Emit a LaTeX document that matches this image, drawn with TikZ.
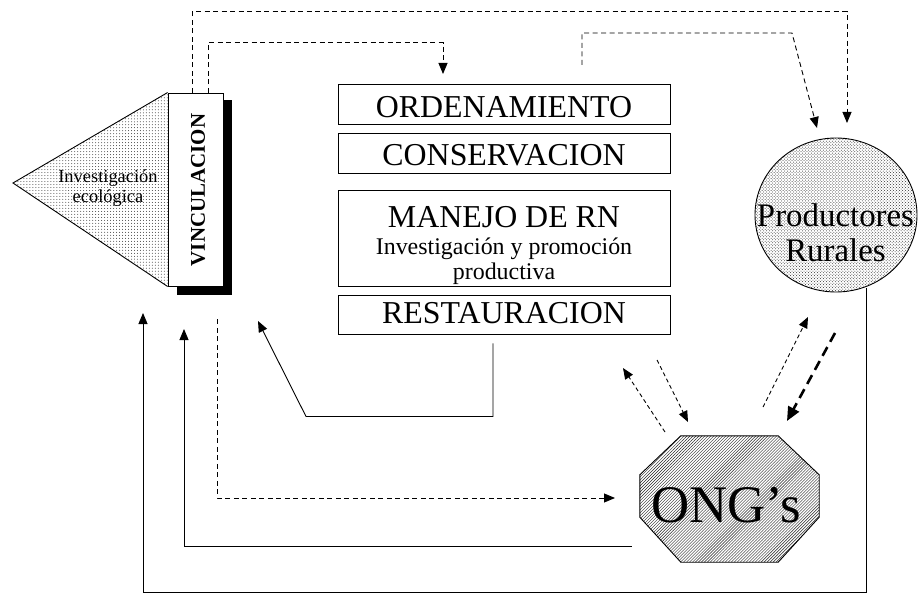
\documentclass[tikz,border=0pt]{standalone}
\usepackage{fontspec}
\setmainfont{Liberation Serif}
\usetikzlibrary{arrows.meta,patterns,shapes.geometric,calc}
\begin{document}
\begin{tikzpicture}[x=1bp,y=-1bp,
  ln/.style={line width=0.9bp},
  dsh/.style={line width=0.9bp, dash pattern=on 5bp off 3.5bp},
  arr/.style={-{Triangle[length=11bp,width=9bp]}},
  boxst/.style={draw, line width=0.9bp, fill=white, inner sep=0, minimum width=332bp},
  big/.style={font=\fontsize{32}{32}\selectfont},
  mid/.style={font=\fontsize{24}{24}\selectfont},
]
\useasboundingbox[fill=white] (0,0) rectangle (922,594);

% VINCULACION box with shadow and triangle
\fill[black] (177,100) rectangle (232,295);
\node[draw, line width=0.9bp, fill=white, minimum width=55bp, minimum height=193bp, inner sep=0] (vinc) at (195.5,189.5) {};
\node[rotate=90, font=\fontsize{21}{21}\selectfont\bfseries] (tvinc) at (198,190) {VINCULACION};
\coordinate (apex) at (13,183);
\path[pattern=dots, pattern color=black!75] (apex) -- (vinc.north west) -- (vinc.south west) -- cycle;
\draw[ln] (vinc.north west) -- (apex) -- (vinc.south west);
\node[anchor=base, font=\fontsize{18.5}{18.5}\selectfont] (tinv) at (108,183) {Investigación};
\node[anchor=base, font=\fontsize{18.5}{18.5}\selectfont] (teco) at (108,203) {ecológica};

% central boxes
\node[boxst, minimum height=40bp] (ord) at (504,104) {};
\node[anchor=base, big] (tord) at (504,118) {ORDENAMIENTO};
\node[boxst, minimum height=40bp] (cons) at (504,153) {};
\node[anchor=base, big] (tcons) at (504,166) {CONSERVACION};
\node[boxst, minimum height=96bp] (man) at (504,238) {};
\node[anchor=base, big] (tman) at (504,228) {MANEJO DE RN};
\node[anchor=base, mid] (tman2) at (504,255) {Investigación y promoción};
\node[anchor=base, mid] (tman3) at (504,279) {productiva};
\node[boxst, minimum height=39bp] (rest) at (504,314.5) {};
\node[anchor=base, big] (trest) at (504,323) {RESTAURACION};

% Productores Rurales
\node[ellipse, draw, line width=0.9bp, pattern=crosshatch dots, pattern color=black!80, minimum width=162bp, minimum height=154bp, inner sep=0] (prod) at (836,215) {};
\node[anchor=base, font=\fontsize{33}{33}\selectfont] (tprod) at (835.5,227) {Productores};
\node[anchor=base, font=\fontsize{33}{33}\selectfont] (trur) at (835.5,262) {Rurales};

% ONG's octagon
\node[minimum width=179bp, minimum height=126bp, inner sep=0] (ong) at (729.5,499) {};
\draw[ln, pattern=north east lines, pattern color=black!85]
  ($(ong.north west)+(41,0)$) -- ($(ong.north east)+(-41,0)$) -- ($(ong.north east)+(0,39)$)
  -- ($(ong.south east)+(0,-45)$) -- ($(ong.south east)+(-41,0)$) -- ($(ong.south west)+(41,0)$)
  -- ($(ong.south west)+(0,-45)$) -- ($(ong.north west)+(0,39)$) -- cycle;
\node[anchor=base, font=\fontsize{53}{53}\selectfont] (tong) at (726,522) {ONG’s};

% connector end points
\coordinate (e1) at (847,123);
\coordinate (e2) at (443,74);
\coordinate (s3) at (582,65);
\coordinate (e3) at (817,128);
\coordinate (e4) at (258,321);
\coordinate (e5) at (615,498);
\coordinate (e6) at (184,329);
\coordinate (s7) at (866,288);
\coordinate (e7) at (143,313);

% top dashed connectors
\draw[dsh, arr] ([xshift=-3.5bp]vinc.north) -- ++(0,-81) -| (e1);
\draw[dsh, arr] ([xshift=12.5bp]vinc.north) -- ++(0,-50) -| (e2);
\draw[dsh, arr] (s3) -- ++(0,-32) -- ++(210,0) -- (e3);

% restauracion back to vinculacion
\draw[ln, arr] ([xshift=-11bp,yshift=-9bp]rest.south) -- ++(0,73) -- ++(-187,0) -- (e4);

% vinculacion to ONG's
\draw[dsh, arr] ([xshift=21.5bp,yshift=-33bp]vinc.south) |- (e5);

% ONG's back
\draw[ln, arr] ([xshift=-8bp,yshift=-47bp]ong.west) -| (e6);

% Productores back
\draw[ln, arr] (s7) -- ++(0,304) -| (e7);

% arrows around ONG's
\coordinate (h1) at (665,432); \coordinate (h2) at (623,368);
\coordinate (i1) at (657,360); \coordinate (i2) at (688,422);
\coordinate (j1) at (763,407); \coordinate (j2) at (808,317);
\coordinate (k1) at (835,333); \coordinate (k2) at (787,421);
\draw[dsh, dash pattern=on 4bp off 3bp, arr] (h1) -- (h2);
\draw[dsh, dash pattern=on 4bp off 3bp, arr] (i1) -- (i2);
\draw[dsh, dash pattern=on 4bp off 3bp, arr] (j1) -- (j2);
\draw[line width=2.6bp, dash pattern=on 10bp off 6bp, -{Triangle[length=14bp,width=12bp]}] (k1) -- (k2);
\end{tikzpicture}
\end{document}
